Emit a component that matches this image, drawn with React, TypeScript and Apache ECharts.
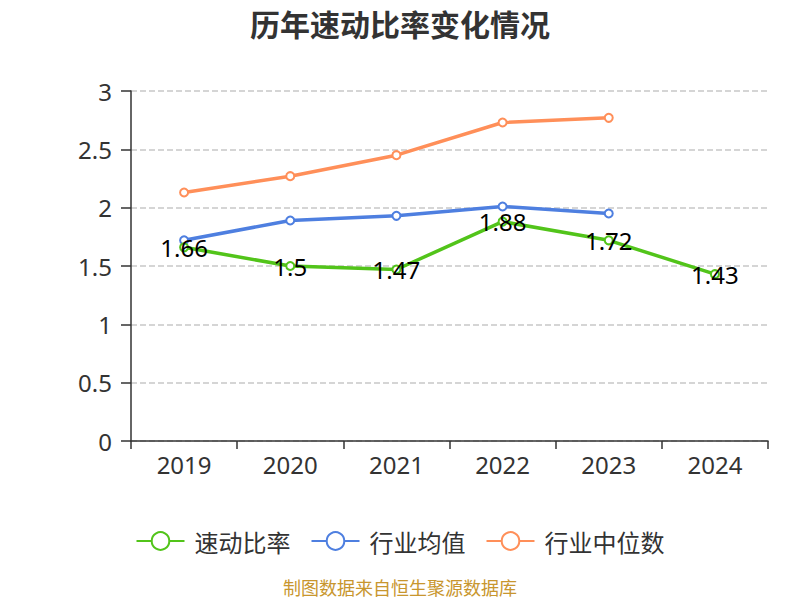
import React, { useEffect, useRef } from "react";
import * as echarts from "echarts";

const years = ["2019", "2020", "2021", "2022", "2023", "2024"];
const quickRatio = [1.66, 1.5, 1.47, 1.88, 1.72, 1.43];
const industryAvg = [1.72, 1.89, 1.93, 2.01, 1.95, null];
const industryMedian = [2.13, 2.27, 2.45, 2.73, 2.77, null];

const FONT = "'Noto Sans', 'Noto Sans CJK SC', sans-serif";
const CJK = "'Noto Sans CJK SC', sans-serif";

export default function App() {
  const ref = useRef<HTMLDivElement>(null);
  useEffect(() => {
    const chart = echarts.init(ref.current!, null, { renderer: "svg" });
    const mk = (name: string, data: any[], color: string, label: boolean) => ({
      name,
      type: "line",
      data,
      symbol: "emptyCircle",
      symbolSize: 8,
      lineStyle: { width: 3.5, color },
      itemStyle: { color, borderWidth: 2 },
      label: label
        ? { show: true, position: "inside", color: "#000", fontSize: 24, fontFamily: FONT }
        : { show: false },
      z: label ? 3 : 2,
    });
    chart.setOption({
      animation: false,
      textStyle: { fontFamily: FONT },
      title: {
        text: "历年速动比率变化情况",
        left: "center",
        top: 3,
        textStyle: { fontSize: 30, fontWeight: "bold", color: "#333", fontFamily: CJK },
      },
      grid: { left: 131, right: 32, top: 91, bottom: 159 },
      legend: {
        top: 524,
        left: "center",
        itemWidth: 48,
        itemHeight: 22,
        itemGap: 20,
        textStyle: { fontSize: 24, color: "#333", fontFamily: CJK, padding: [0, 0, 0, 5] },
        data: ["速动比率", "行业均值", "行业中位数"],
      },
      graphic: [
        {
          type: "text",
          left: "center",
          top: 578,
          style: { text: "制图数据来自恒生聚源数据库", fill: "#C8962E", fontSize: 18, fontFamily: CJK },
        },
      ],
      xAxis: {
        type: "category",
        data: years,
        boundaryGap: true,
        axisLine: { lineStyle: { color: "#333", width: 1.5 } },
        axisTick: { show: true, length: 8, lineStyle: { color: "#333", width: 1.5 } },
        axisLabel: { fontSize: 24, color: "#333", margin: 11, fontFamily: FONT },
      },
      yAxis: {
        type: "value",
        min: 0,
        max: 3,
        interval: 0.5,
        axisLine: { show: true, lineStyle: { color: "#333", width: 1.5 } },
        axisTick: { show: true, length: 10, lineStyle: { color: "#333", width: 1.5 } },
        axisLabel: { fontSize: 24, color: "#333", margin: 19, fontFamily: FONT },
        splitLine: { lineStyle: { type: "dashed", color: "#c8c8c8", width: 1.5 } },
      },
      series: [
        mk("速动比率", quickRatio, "#52C41A", true),
        mk("行业均值", industryAvg, "#4E7FE0", false),
        mk("行业中位数", industryMedian, "#FF8F59", false),
      ],
    });
    return () => chart.dispose();
  }, []);
  return (
    <div
      ref={ref}
      style={{ position: "absolute", left: 0, top: 0, width: 800, height: 600 }}
    />
  );
}
